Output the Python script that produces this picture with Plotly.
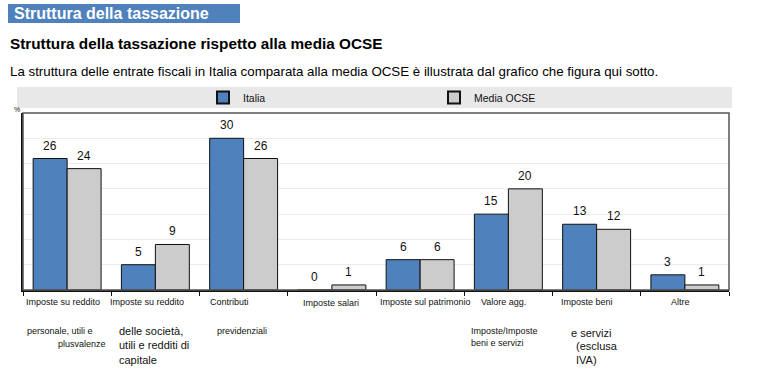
import plotly.graph_objects as go

# ---------------- data ----------------
categories = ["reddito_personale", "reddito_societa", "contributi", "salari",
              "patrimonio", "iva", "beni_servizi", "altre"]
series_names = ["Italia", "Media OCSE"]
italia = [26, 5, 30, 0, 6, 15, 13, 3]
ocse = [24, 9, 26, 1, 6, 20, 12, 1]

label_line1 = ["Imposte su reddito", "Imposte su reddito", "Contributi", "Imposte salari",
               "Imposte sul patrimonio", "Valore agg.", "Imposte beni", "Altre"]
label_line2 = ["personale, utili e", "delle società,<br>utili e redditi di<br>capitale",
               "previdenziali", "", "", "Imposte/Imposte<br>beni e servizi", "e servizi", ""]
label_line3 = ["plusvalenze", "", "", "", "", "", "(esclusa<br>IVA)", ""]

header_text = "Struttura della tassazione"
subtitle_text = "Struttura della tassazione rispetto alla media OCSE"
desc_text = ("La struttura delle entrate fiscali in Italia comparata alla media OCSE "
             "è illustrata dal grafico che figura qui sotto.")
unit_text = "%"

# ---------------- layout helpers ----------------
W_PX, H_PX = 758, 387
L, R, T, B = 23, 729, 113, 290
PW, PH = R - L, B - T


def px(x):
    return (x - L) / PW


def py(y):
    return (B - y) / PH


BLUE = "#4F81BD"
GRAY = "#CCCCCC"
NARROW = "Liberation Sans Narrow, Arial Narrow, Liberation Sans, Arial, sans-serif"
ARIAL = "Liberation Sans, Arial, sans-serif"

fig = go.Figure()
fig.add_trace(go.Bar(x=categories, y=italia, name=series_names[0],
                     marker=dict(color=BLUE, line=dict(color="#111111", width=1))))
fig.add_trace(go.Bar(x=categories, y=ocse, name=series_names[1],
                     marker=dict(color=GRAY, line=dict(color="#111111", width=1))))

annotations = []
# value labels
for vals, shift in ((italia, -17), (ocse, 17)):
    for c, v in zip(categories, vals):
        annotations.append(dict(x=c, y=v, xref="x", yref="y", text=str(v), showarrow=False,
                                xshift=shift, yshift=4, yanchor="bottom",
                                font=dict(family=NARROW, size=12, color="#111111")))

# category labels
l1_shift = [-4, -8, -14, -1, 5, -5, -10, -4]
l1_top = [5, 5, 5, 6, 5, 5, 5, 5]
for c, t, dx, dy in zip(categories, label_line1, l1_shift, l1_top):
    annotations.append(dict(x=c, y=0, xref="x", yref="paper", text=t, showarrow=False,
                            xanchor="center", yanchor="top", xshift=dx, yshift=-dy,
                            font=dict(family=NARROW, size=9, color="#111111")))

l2_shift = [-42, -38, -29, 0, 0, -39, -28, 0]
l2_top = [34, 33, 34, 0, 0, 34, 35, 0]
l2_size = [9, 11, 9, 9, 9, 9, 11, 9]
l2_font = [NARROW, ARIAL, NARROW, NARROW, NARROW, NARROW, ARIAL, NARROW]
for c, t, dx, dy, s, f in zip(categories, label_line2, l2_shift, l2_top, l2_size, l2_font):
    if t:
        annotations.append(dict(x=c, y=0, xref="x", yref="paper", text=t, showarrow=False,
                                xanchor="left", yanchor="top", align="left",
                                xshift=dx, yshift=-dy,
                                font=dict(family=f, size=s, color="#111111")))

l3_shift = [-11, 0, 0, 0, 0, 0, -23, 0]
l3_top = [47, 0, 0, 0, 0, 0, 48, 0]
l3_size = [9, 9, 9, 9, 9, 9, 11, 9]
l3_font = [NARROW, NARROW, NARROW, NARROW, NARROW, NARROW, ARIAL, NARROW]
for c, t, dx, dy, s, f in zip(categories, label_line3, l3_shift, l3_top, l3_size, l3_font):
    if t:
        annotations.append(dict(x=c, y=0, xref="x", yref="paper", text=t, showarrow=False,
                                xanchor="left", yanchor="top", align="left",
                                xshift=dx, yshift=-dy,
                                font=dict(family=f, size=s, color="#111111")))

# header texts
annotations.append(dict(x=px(12), y=py(13.5), xref="paper", yref="paper", text=header_text,
                        showarrow=False, xanchor="left", yanchor="middle",
                        font=dict(family=ARIAL, size=16, color="white", weight="bold")))
annotations.append(dict(x=px(8), y=py(43), xref="paper", yref="paper", text=subtitle_text,
                        showarrow=False, xanchor="left", yanchor="middle",
                        font=dict(family=ARIAL, size=15.3, color="black", weight="bold")))
annotations.append(dict(x=px(8), y=py(71), xref="paper", yref="paper", text=desc_text,
                        showarrow=False, xanchor="left", yanchor="middle",
                        font=dict(family=ARIAL, size=13.3, color="black")))
annotations.append(dict(x=px(12), y=py(109), xref="paper", yref="paper", text=unit_text,
                        showarrow=False, xanchor="left", yanchor="middle",
                        font=dict(family=NARROW, size=7, color="#111111")))

shapes = [
    dict(type="rect", xref="paper", yref="paper", x0=px(8), x1=px(240), y0=py(23), y1=py(4),
         fillcolor=BLUE, line=dict(width=0), layer="below"),
    dict(type="rect", xref="paper", yref="paper", x0=px(17), x1=px(732), y0=py(108), y1=py(87),
         fillcolor="#E8E8E8", line=dict(width=0), layer="below"),
    dict(type="rect", xref="paper", yref="paper", x0=0, x1=1, y0=0, y1=1,
         line=dict(color="#555555", width=1.5), layer="above"),
]

fig.update_layout(
    width=W_PX, height=H_PX,
    margin=dict(l=L, r=W_PX - R, t=T, b=H_PX - B, pad=0),
    paper_bgcolor="white", plot_bgcolor="white",
    barmode="group", bargap=0.23, bargroupgap=0,
    showlegend=True,
    legend=dict(orientation="h", x=px(203), xanchor="left", y=py(97.5), yanchor="middle",
                bgcolor="rgba(0,0,0,0)", entrywidth=186, entrywidthmode="pixels",
                font=dict(family=NARROW, size=10.5, color="#111111"), itemsizing="constant"),
    annotations=annotations, shapes=shapes,
    xaxis=dict(showticklabels=False, ticks="outside", tickson="boundaries", ticklen=4,
               tickcolor="#111111", tickwidth=1, showline=True, linecolor="#111111",
               linewidth=2, showgrid=False, zeroline=False, range=[-0.5, 7.5]),
    yaxis=dict(range=[0, 35], dtick=5, showticklabels=False, showgrid=True,
               gridcolor="#EBEBEB", gridwidth=1, showline=True, linecolor="#111111",
               linewidth=2, zeroline=False, ticks=""),
)

fig.write_html("out.html", config={"displayModeBar": False},
               post_script="document.body.style.margin='0px';")
